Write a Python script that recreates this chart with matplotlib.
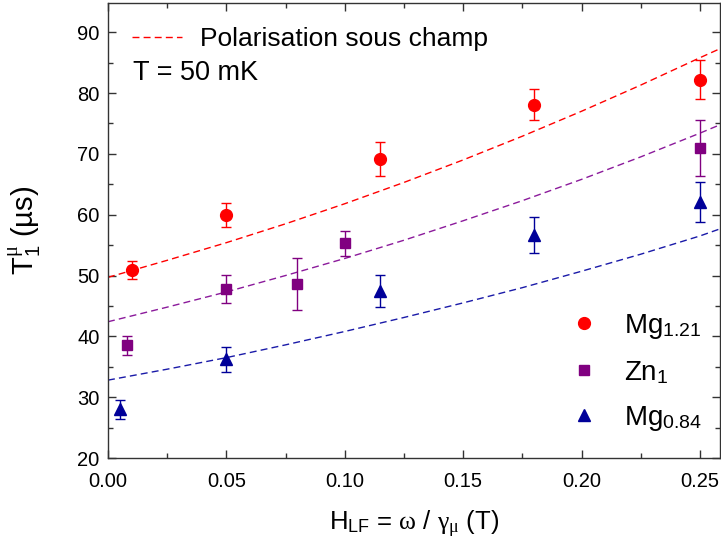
import matplotlib
matplotlib.use("Agg")
import matplotlib.pyplot as plt
from matplotlib.lines import Line2D
from matplotlib.ticker import MultipleLocator, FormatStrFormatter

plt.rcParams['font.family'] = ['Liberation Sans', 'DejaVu Sans']
plt.rcParams['mathtext.fontset'] = 'custom'
plt.rcParams['mathtext.rm'] = 'Liberation Sans'
plt.rcParams['mathtext.it'] = 'Liberation Serif'
plt.rcParams['mathtext.sf'] = 'Liberation Sans'

# Data
x_mg121 = [0.010, 0.050, 0.115, 0.180, 0.250]
y_mg121 = [50.9, 60.0, 69.1, 78.1, 82.2]
e_mg121 = [1.5, 2.0, 2.8, 2.6, 3.2]

x_zn1 = [0.008, 0.050, 0.080, 0.100, 0.250]
y_zn1 = [38.5, 47.8, 48.6, 55.3, 71.0]
e_zn1 = [1.6, 2.3, 4.2, 2.1, 4.6]

x_mg084 = [0.005, 0.050, 0.115, 0.180, 0.250]
y_mg084 = [28.0, 36.2, 47.5, 56.7, 62.1]
e_mg084 = [1.6, 2.0, 2.6, 3.0, 3.3]

# Dashed "polarisation sous champ" curves
x_fit = [0.0, 0.025, 0.05, 0.075, 0.10, 0.125, 0.15, 0.175, 0.20, 0.225, 0.25, 0.258]
fit_mg121 = [49.7, 52.5, 55.4, 58.5, 61.8, 65.3, 69.0, 72.9, 77.0, 81.3, 85.8, 87.2]
fit_zn1 = [42.4, 44.8, 47.3, 50.0, 52.8, 55.8, 59.0, 62.3, 65.8, 69.5, 73.4, 74.7]
fit_mg084 = [32.8, 34.6, 36.5, 38.6, 40.8, 43.1, 45.5, 48.0, 50.7, 53.5, 56.5, 57.6]

labels = [r'Mg$_{1.21}$', r'Zn$_{1}$', r'Mg$_{0.84}$']
fit_label = 'Polarisation sous champ'
c_red = '#FF0000'
c_pur = '#800080'
c_blu = '#000099'
dash = (0, (5, 3))

fig = plt.figure(figsize=(7.21, 5.49), dpi=100)
ax = fig.add_axes([108/721, 1-458/549, 612/721, 455/549])

ax.plot(x_fit, fit_mg121, ls=dash, color=c_red, lw=1.0)
ax.plot(x_fit, fit_zn1, ls=dash, color='#8B1A9B', lw=1.0)
ax.plot(x_fit, fit_mg084, ls=dash, color='#1a1aa8', lw=1.0)

ax.errorbar(x_mg121, y_mg121, yerr=e_mg121, fmt='o', color=c_red, ms=8.5,
            capsize=3.3, elinewidth=1.0, capthick=1.0)
ax.errorbar(x_zn1, y_zn1, yerr=e_zn1, fmt='s', color=c_pur, ms=7.2,
            capsize=3.3, elinewidth=1.0, capthick=1.0)
ax.errorbar(x_mg084, y_mg084, yerr=e_mg084, fmt='^', color=c_blu, ms=9,
            capsize=3.3, elinewidth=1.0, capthick=1.0)

ax.set_xlim(0, 0.2585)
ax.set_ylim(20, 94.8)
ax.xaxis.set_major_locator(MultipleLocator(0.05))
ax.xaxis.set_minor_locator(MultipleLocator(0.025))
ax.yaxis.set_major_locator(MultipleLocator(10))
ax.yaxis.set_minor_locator(MultipleLocator(5))
ax.xaxis.set_major_formatter(FormatStrFormatter('%.2f'))
ax.tick_params(which='both', direction='in', top=True, right=True, labelsize=14.5,
               width=1.0, color='#333333')
ax.tick_params(which='major', length=6)
ax.tick_params(which='minor', length=3.5)
ax.tick_params(axis='x', pad=10)
ax.tick_params(axis='y', pad=6)
for s in ax.spines.values():
    s.set_linewidth(1.0)
    s.set_color('#333333')

ax.set_xlabel(r'H$_{\mathrm{LF}}$ = $\omega$ / $\gamma_{\mu}$ (T)', fontsize=18.5)
ax.xaxis.set_label_coords(0.5, -0.112)
ax.set_ylabel(r'T$^{\mu}_{1}$ (µs)', fontsize=21)
ax.yaxis.set_label_coords(-0.105, 0.5)

# legend: markers
handles = [Line2D([], [], ls='none', marker='o', color=c_red, ms=8.5),
           Line2D([], [], ls='none', marker='s', color=c_pur, ms=7.2),
           Line2D([], [], ls='none', marker='^', color=c_blu, ms=9)]
leg = ax.legend(handles, labels, loc='lower right', frameon=False, fontsize=20,
                handlelength=1.0, handletextpad=0.91, labelspacing=0.65,
                bbox_to_anchor=(1.011, 0.0))
ax.add_artist(leg)

fit_handle = [Line2D([], [], ls=dash, color=c_red, lw=1.0)]
ax.legend(fit_handle, [fit_label], loc='upper left', frameon=False,
          fontsize=19, handlelength=1.9, handletextpad=0.68, bbox_to_anchor=(0.0, 1.0))

ax.text(0.041, 0.846, 'T = 50 mK', transform=ax.transAxes, fontsize=19.5, va='center')

fig.savefig('out.png', dpi=100)
